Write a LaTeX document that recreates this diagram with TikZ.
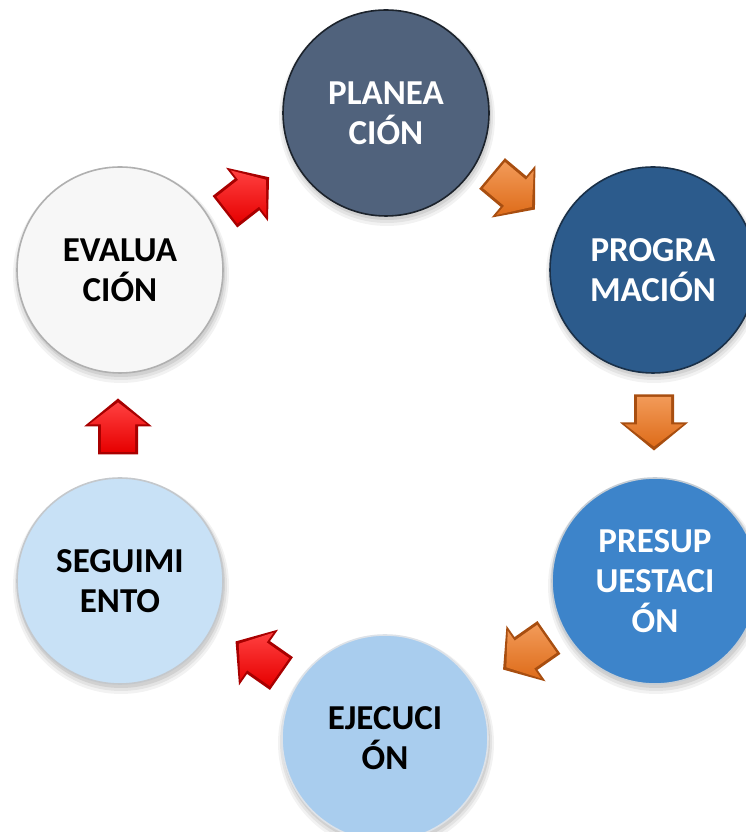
\documentclass[tikz,border=0pt]{standalone}
\usepackage{fontspec}
\setmainfont{Carlito}
\usetikzlibrary{calc}
\definecolor{planin}{HTML}{50627C}\definecolor{planout}{HTML}{2C3848}\definecolor{planrim}{HTML}{1C232C}
\definecolor{progin}{HTML}{2C5B8C}\definecolor{progout}{HTML}{1C3F62}\definecolor{progrim}{HTML}{1A3048}
\definecolor{presin}{HTML}{3D84CA}\definecolor{presout}{HTML}{2A66A4}\definecolor{presrim}{HTML}{C4CCD4}
\definecolor{ejecin}{HTML}{A9CDEE}\definecolor{ejecout}{HTML}{86AED6}\definecolor{ejecrim}{HTML}{DDE2E8}
\definecolor{segin}{HTML}{C8E1F6}\definecolor{segout}{HTML}{A6C4DE}\definecolor{segrim}{HTML}{C4C8CC}
\definecolor{evalin}{HTML}{F7F7F7}\definecolor{evalout}{HTML}{C4C4C4}\definecolor{evalrim}{HTML}{B0B0B0}
\definecolor{orbase}{HTML}{DE6C1A}\definecolor{orlight}{HTML}{F29A58}\definecolor{ordark}{HTML}{A84E10}
\definecolor{rdbase}{HTML}{E60000}\definecolor{rdlight}{HTML}{FF4040}\definecolor{rddark}{HTML}{A80000}
\pgfdeclareradialshading{planshade}{\pgfpoint{0bp}{0bp}}{color(0bp)=(planin);color(40bp)=(planin);color(49bp)=(planout);color(50bp)=(planout)}
\pgfdeclareradialshading{progshade}{\pgfpoint{0bp}{0bp}}{color(0bp)=(progin);color(40bp)=(progin);color(49bp)=(progout);color(50bp)=(progout)}
\pgfdeclareradialshading{presshade}{\pgfpoint{0bp}{0bp}}{color(0bp)=(presin);color(40bp)=(presin);color(49bp)=(presout);color(50bp)=(presout)}
\pgfdeclareradialshading{ejecshade}{\pgfpoint{0bp}{0bp}}{color(0bp)=(ejecin);color(40bp)=(ejecin);color(49bp)=(ejecout);color(50bp)=(ejecout)}
\pgfdeclareradialshading{segshade}{\pgfpoint{0bp}{0bp}}{color(0bp)=(segin);color(40bp)=(segin);color(49bp)=(segout);color(50bp)=(segout)}
\pgfdeclareradialshading{evalshade}{\pgfpoint{0bp}{0bp}}{color(0bp)=(evalin);color(36bp)=(evalin);color(49bp)=(evalout);color(50bp)=(evalout)}
% block arrow: #1 centre coordinate, #2 direction, #3 edge, #4 light, #5 base
\newcommand\blockarr[5]{%
  \begin{scope}[shift={(#1)}, rotate=#2]
    \fill[#3] (-28,-20) -- (0,-20) -- (0,-34) -- (28,0) -- (0,34) -- (0,20) -- (-28,20) -- cycle;
    \shade[top color=#4, bottom color=#5] (-25.5,-17) -- (2,-17) -- (2,-29) -- (24,0) -- (2,29) -- (2,17) -- (-25.5,17) -- cycle;
  \end{scope}}
\begin{document}
\begin{tikzpicture}[x=1pt,y=1pt,
  ball/.style={circle, inner sep=0pt, minimum size=206pt, align=center,
    font=\fontsize{35}{40}\selectfont\bfseries, line width=1.6pt}]
\useasboundingbox (0,0) rectangle (745,832);
\fill[white] (0,0) rectangle (745,832);
\coordinate (cplan) at (386,719);
\coordinate (cprog) at (653,562);
\coordinate (cpres) at (655,251);
\coordinate (cejec) at (385,94);
\coordinate (cseg) at (120,251);
\coordinate (ceval) at (120,562);
\foreach \c in {cplan,cprog,cpres,cejec,cseg,ceval}{
  \fill[black,opacity=0.05] ($(\c)+(1,-5)$) circle (108);
  \fill[black,opacity=0.06] ($(\c)+(1,-4)$) circle (106);
  \fill[black,opacity=0.08] ($(\c)+(1,-3)$) circle (104);
}
\node[ball, shading=planshade, draw=planrim, text=white] (plan) at (cplan) {PLANEA\\CIÓN};
\node[ball, shading=progshade, draw=progrim, text=white] (prog) at (cprog) {PROGRA\\MACIÓN};
\node[ball, shading=presshade, draw=presrim, text=white] (pres) at (cpres) {PRESUP\\UESTACI\\ÓN};
\node[ball, shading=ejecshade, draw=ejecrim, text=black] (ejec) at (cejec) {EJECUCI\\ÓN};
\node[ball, shading=segshade, draw=segrim, text=black] (seg) at (cseg) {SEGUIMI\\ENTO};
\node[ball, shading=evalshade, draw=evalrim, text=black] (eval) at (ceval) {EVALUA\\CIÓN};
% block arrows between consecutive stages
\coordinate (m1) at ($(plan)!0.5!(prog)+(-6,0)$);
\coordinate (m2) at ($(prog)!0.5!(pres)+(0,3)$);
\coordinate (m3) at ($(pres)!0.5!(ejec)+(6,6)$);
\coordinate (m4) at ($(ejec)!0.5!(seg)+(6,2)$);
\coordinate (m5) at ($(seg)!0.5!(eval)+(-2,-1)$);
\coordinate (m6) at ($(eval)!0.5!(plan)+(-6,-3)$);
\blockarr{m1}{-40}{ordark}{orlight}{orbase}
\blockarr{m2}{-90}{ordark}{orlight}{orbase}
\blockarr{m3}{-145}{ordark}{orlight}{orbase}
\blockarr{m4}{145}{rddark}{rdlight}{rdbase}
\blockarr{m5}{90}{rddark}{rdlight}{rdbase}
\blockarr{m6}{38}{rddark}{rdlight}{rdbase}
\end{tikzpicture}
\end{document}
